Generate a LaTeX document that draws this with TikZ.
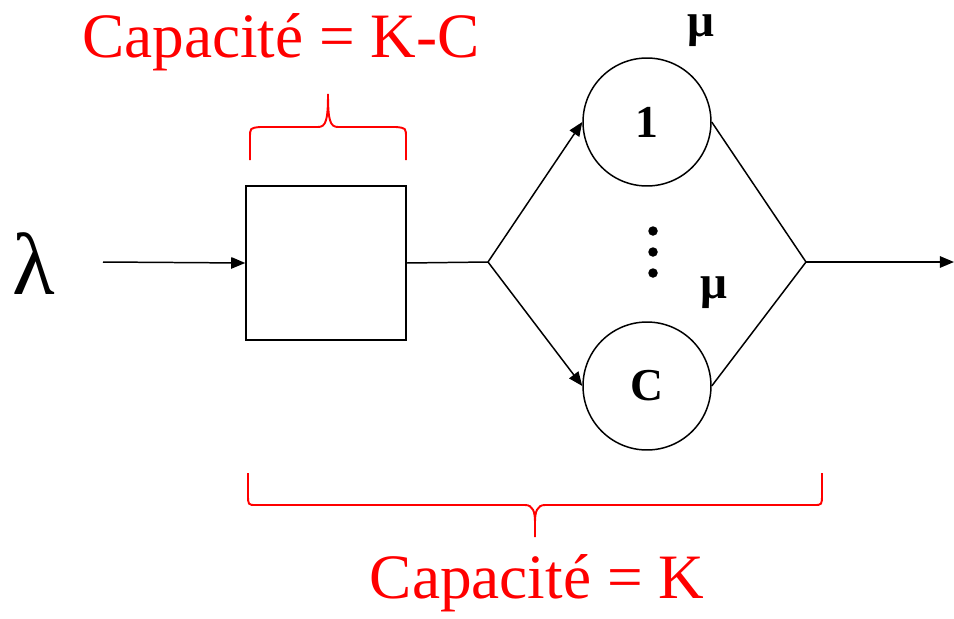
\documentclass[tikz,border=0pt]{standalone}
\usepackage{fontspec}
\setmainfont{Liberation Serif}
\usetikzlibrary{arrows.meta}
\begin{document}
\begin{tikzpicture}[x=0.02cm,y=-0.02cm,
  conn/.style={line width=0.85pt,-{Triangle[length=8pt,width=6.5pt]}},
  plain/.style={line width=0.85pt},
  server/.style={circle,draw,line width=0.85pt,minimum size=2.56cm,inner sep=0pt,font=\fontsize{26}{28}\selectfont\bfseries},
  queuebox/.style={rectangle,draw,line width=0.85pt,minimum width=3.2cm,minimum height=3.08cm,inner sep=0pt},
  redlbl/.style={text=red,font=\fontsize{36}{40}\selectfont,inner sep=0pt},
  bracepath/.style={draw=red,line width=1.1pt},
  mulbl/.style={font=\fontsize{27}{30}\selectfont\bfseries,inner sep=0pt}]
\useasboundingbox (0,0) rectangle (954,619);
% nodes
\node[font=\fontsize{50}{52}\selectfont,inner sep=0pt] (lam) at (34,264) {λ};
\coordinate (in) at (103,262);
\node[queuebox] (q) at (326,263) {};
\coordinate (j1) at (488,262);
\node[server] (s1) at (647,122) {1};
\node[server] (sc) at (647,386) {C};
\coordinate (j2) at (806,262);
\coordinate (out) at (954,262);
\node[mulbl] (mu1) at (701,31) {μ};
\node[mulbl] (mu2) at (714,293) {μ};
\foreach \yy/\nm in {231/d1,252/d2,273/d3}
  \node[circle,fill,inner sep=0pt,minimum size=0.19cm] (\nm) at (653,\yy) {};
% connectors
\draw[conn] (in) -- (q.west);
\draw[plain] (q.east) -- (j1);
\draw[conn] (j1) -- (s1.west);
\draw[conn] (j1) -- (sc.west);
\draw[plain] (s1.east) -- (j2);
\draw[plain] (sc.east) -- (j2);
\draw[conn] (j2) -- (out);
% top brace
\node[redlbl] (cap1) at (281,42) {Capacité = K-C};
\coordinate (tb1) at (250,160);
\coordinate (tb2) at (406,160);
\coordinate (tbt) at (328,94);
\draw[bracepath] (tb1) -- (250,138) .. controls (250,128) .. (260,127) -- (318,127)
  .. controls (326,127) and (328,120) .. (tbt)
  .. controls (328,120) and (330,127) .. (338,127) -- (396,127)
  .. controls (406,128) .. (406,138) -- (tb2);
% bottom brace
\node[redlbl] (cap2) at (537,583) {Capacité = K};
\coordinate (bb1) at (248,473);
\coordinate (bb2) at (822,473);
\coordinate (bbt) at (535,537);
\draw[bracepath] (bb1) -- (248,494) .. controls (248,505) .. (256,505) -- (525,505)
  .. controls (533,505) and (535,512) .. (535,522) -- (bbt);
\draw[bracepath] (bb2) -- (822,494) .. controls (822,505) .. (814,505) -- (545,505)
  .. controls (537,505) and (535,512) .. (535,522);
\end{tikzpicture}
\end{document}
